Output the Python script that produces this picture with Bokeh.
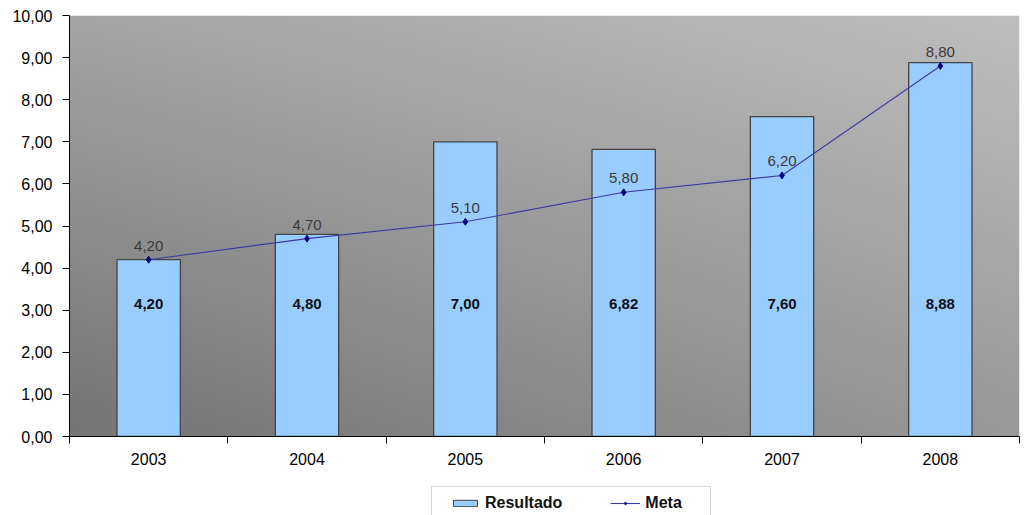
import numpy as np
from bokeh.plotting import figure
from bokeh.layouts import column
from bokeh.models import (Range1d, FixedTicker, CustomJSTickFormatter, Legend, LegendItem,
                          ColumnDataSource, BoxAnnotation)
from bokeh.core.properties import value
from bokeh.embed import file_html
from bokeh.resources import INLINE

years = ["2003", "2004", "2005", "2006", "2007", "2008"]
resultado = [4.20, 4.80, 7.00, 6.82, 7.60, 8.88]
meta = [4.20, 4.70, 5.10, 5.80, 6.20, 8.80]
y_ticks = list(range(0, 11))

FONT = "Liberation Sans"

def fmt(v):
    return f"{v:.2f}".replace(".", ",")

xs = [i + 0.5 for i in range(len(years))]
src = ColumnDataSource(dict(
    x=xs, resultado=resultado, meta=meta,
    rlab=[fmt(v) for v in resultado], mlab=[fmt(v) for v in meta],
    labpos=[3.15] * len(years),
))

BAR_FILL = "#99ccff"
BAR_LINE = "#444444"
LINE_COL = "#3c3ca0"
MARK_COL = "#000080"

p = figure(width=1024, height=478, output_backend="svg", toolbar_location=None,
           x_range=Range1d(0, len(years)), y_range=Range1d(0, 10),
           min_border_left=69, min_border_top=15, min_border_right=5, min_border_bottom=42)
p.outline_line_color = None
p.xgrid.visible = False
p.ygrid.visible = False
p.background_fill_color = "white"
p.border_fill_color = "white"

# gradient background of the plot area (style only): bilinear between corner greys
H, W = 211, 475
yy = np.linspace(0, 1, H)[:, None]
xx = np.linspace(0, 1, W)[None, :]
BL, BR, TL, TR = 116.0, 152.0, 164.0, 190.0
g = (BL * (1 - xx) * (1 - yy) + BR * xx * (1 - yy) + TL * (1 - xx) * yy + TR * xx * yy)
g = g.clip(0, 255).astype(np.uint32)
img = (np.uint32(255) << np.uint32(24)) | (g << np.uint32(16)) | (g << np.uint32(8)) | g
p.image_rgba(image=[img.astype(np.uint32)], x=0, y=0, dw=len(years), dh=10)

bars = p.vbar(x="x", top="resultado", width=0.4, source=src,
              fill_color=BAR_FILL, line_color=BAR_LINE, line_width=1.3)
line = p.line(x="x", y="meta", source=src, line_color=LINE_COL, line_width=1.1)
pts = p.scatter(x="x", y="meta", source=src, marker="diamond", size=7,
                fill_color=MARK_COL, line_color=MARK_COL)

p.text(x="x", y="labpos", text="rlab", source=src, text_align="center",
       text_baseline="middle", text_font=value(FONT), text_font_size="15px",
       text_font_style="bold", text_color="#111111")
p.text(x="x", y="meta", text="mlab", source=src, text_align="center",
       text_baseline="bottom", y_offset=-9, text_font=value(FONT),
       text_font_size="15px", text_color="#3a3a3a")

# y axis
ya = p.yaxis[0]
ya.ticker = FixedTicker(ticks=y_ticks)
ya.formatter = CustomJSTickFormatter(code="return tick.toFixed(2).replace('.', ',');")
ya.major_tick_in = 0
ya.major_tick_out = 7
ya.minor_tick_line_color = None
ya.axis_line_color = "black"
ya.major_tick_line_color = "black"
ya.major_label_text_font = FONT
ya.major_label_text_font_size = "16px"
ya.major_label_text_color = "black"
ya.major_label_standoff = 10

# x axis
xa = p.xaxis[0]
xa.ticker = FixedTicker(ticks=xs, minor_ticks=list(range(len(years) + 1)))
xa.formatter = CustomJSTickFormatter(args=dict(labels=years),
                                     code="return labels[Math.floor(tick)];")
xa.major_tick_line_color = None
xa.major_tick_in = 0
xa.major_tick_out = 7
xa.minor_tick_in = 0
xa.minor_tick_out = 7
xa.minor_tick_line_color = "black"
xa.axis_line_color = "black"
xa.major_label_text_font = FONT
xa.major_label_text_font_size = "16px"
xa.major_label_text_color = "black"
xa.major_label_standoff = 9

# legend strip: a small figure below, its frame aligned with the chart's frame
q = figure(width=1024, height=37, output_backend="svg", toolbar_location=None,
           x_range=Range1d(0, 1), y_range=Range1d(0, 1),
           min_border_left=69, min_border_right=5, min_border_top=0, min_border_bottom=0)
q.axis.visible = False
q.grid.visible = False
q.outline_line_color = None
q.border_fill_color = "white"
q.background_fill_color = "white"
# legend proxies (not shown themselves)
lb = q.vbar(x="x", top="resultado", width=0.4, source=src, visible=False,
            fill_color=BAR_FILL, line_color=BAR_LINE, line_width=1)
ll = q.line(x="x", y="meta", source=src, visible=False, line_color=LINE_COL, line_width=1.1)
lp = q.scatter(x="x", y="meta", source=src, marker="diamond", size=6, visible=False,
               fill_color=MARK_COL, line_color=MARK_COL)

# legend frame box
q.add_layout(BoxAnnotation(left=362 / 950, right=641 / 950,
                           top=29 / 37, bottom=-0.6,
                           fill_color="white", fill_alpha=1,
                           line_color="#7a7a7a", line_width=1, level="annotation"))

legend = Legend(items=[LegendItem(label="Resultado", renderers=[lb]),
                       LegendItem(label="Meta", renderers=[ll, lp])],
                orientation="horizontal", location=(381, 3),
                label_text_font=FONT, label_text_font_size="16px",
                label_text_font_style="bold", label_text_color="#111111",
                glyph_width=30, glyph_height=8, label_standoff=5, spacing=48,
                padding=4, margin=0,
                border_line_color=None,
                background_fill_alpha=0)
q.add_layout(legend)

open("out.html", "w").write(file_html(column(p, q, spacing=0), INLINE))
